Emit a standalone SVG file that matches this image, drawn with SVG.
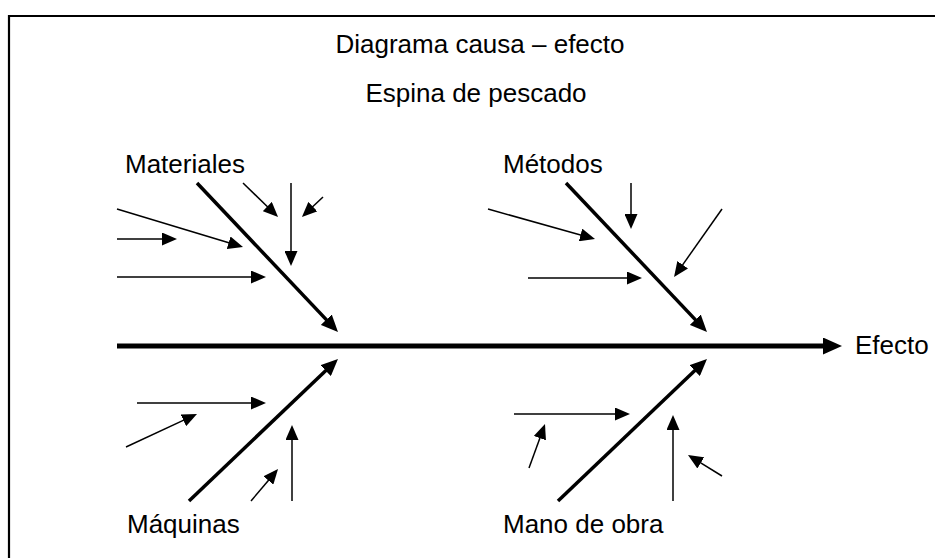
<svg xmlns="http://www.w3.org/2000/svg" width="935" height="558" viewBox="0 0 935 558">
<style>
text{font-family:"Liberation Sans",Arial,sans-serif;font-size:26px;fill:#000}
.s{stroke:#000;stroke-width:1.5;fill:none;marker-end:url(#hs)}
.t{stroke:#000;stroke-width:3.5;fill:none;marker-end:url(#ht)}
.b{stroke:#000;stroke-width:5;fill:none;marker-end:url(#hb)}
</style>
<defs>
<marker id="hs" markerUnits="userSpaceOnUse" markerWidth="15" markerHeight="13" refX="1" refY="6.5" orient="auto"><path d="M0,0 L15,6.5 L0,13 z" fill="#000"/></marker>
<marker id="ht" markerUnits="userSpaceOnUse" markerWidth="17" markerHeight="15" refX="1" refY="7.5" orient="auto"><path d="M0,0 L17,7.5 L0,15 z" fill="#000"/></marker>
<marker id="hb" markerUnits="userSpaceOnUse" markerWidth="19" markerHeight="17" refX="0" refY="8.5" orient="auto"><path d="M0,0 L19,8.5 L0,17 z" fill="#000"/></marker>
</defs>
<rect width="935" height="558" fill="#fff"/>
<path d="M9,558 V16 H935" fill="none" stroke="#000" stroke-width="2.2"/>
<g id="title">
<text x="480" y="53" text-anchor="middle">Diagrama causa – efecto</text>
<text x="476" y="102" text-anchor="middle">Espina de pescado</text>
</g>
<g id="materiales"><text x="125" y="173">Materiales</text></g>
<g id="metodos"><text x="503" y="173">Métodos</text></g>
<g id="maquinas"><text x="127" y="533">Máquinas</text></g>
<g id="mano-de-obra"><text x="503" y="533">Mano de obra</text></g>
<g id="efecto"><text x="855" y="354">Efecto</text></g>
<g id="connectors">
<line class="b" x1="117" y1="346" x2="823" y2="346"/>
<line class="t" x1="197" y1="183" x2="327" y2="320.4"/>
<line class="t" x1="566" y1="183" x2="696" y2="320.4"/>
<line class="t" x1="189" y1="501" x2="326.4" y2="370"/>
<line class="t" x1="558" y1="501" x2="695.4" y2="370"/>
<line class="s" x1="117" y1="209" x2="229.6" y2="243"/>
<line class="s" x1="117" y1="239" x2="163" y2="239"/>
<line class="s" x1="117" y1="277" x2="252" y2="277"/>
<line class="s" x1="243" y1="183" x2="268" y2="207.2"/>
<line class="s" x1="291" y1="183" x2="291" y2="252"/>
<line class="s" x1="323" y1="197" x2="312.1" y2="207.3"/>
<line class="s" x1="488" y1="209" x2="581.5" y2="235.2"/>
<line class="s" x1="528" y1="278" x2="628" y2="278"/>
<line class="s" x1="631" y1="183" x2="631" y2="215"/>
<line class="s" x1="722" y1="209" x2="682.1" y2="265.6"/>
<line class="s" x1="137" y1="403" x2="252" y2="403"/>
<line class="s" x1="126" y1="447" x2="184.3" y2="419.9"/>
<line class="s" x1="251" y1="501" x2="269" y2="479.7"/>
<line class="s" x1="292" y1="501" x2="292" y2="439"/>
<line class="s" x1="514" y1="414" x2="616" y2="414"/>
<line class="s" x1="529" y1="468" x2="540.2" y2="437.2"/>
<line class="s" x1="673" y1="501" x2="673" y2="429"/>
<line class="s" x1="722" y1="476" x2="699.9" y2="462.4"/>
</g>
</svg>
